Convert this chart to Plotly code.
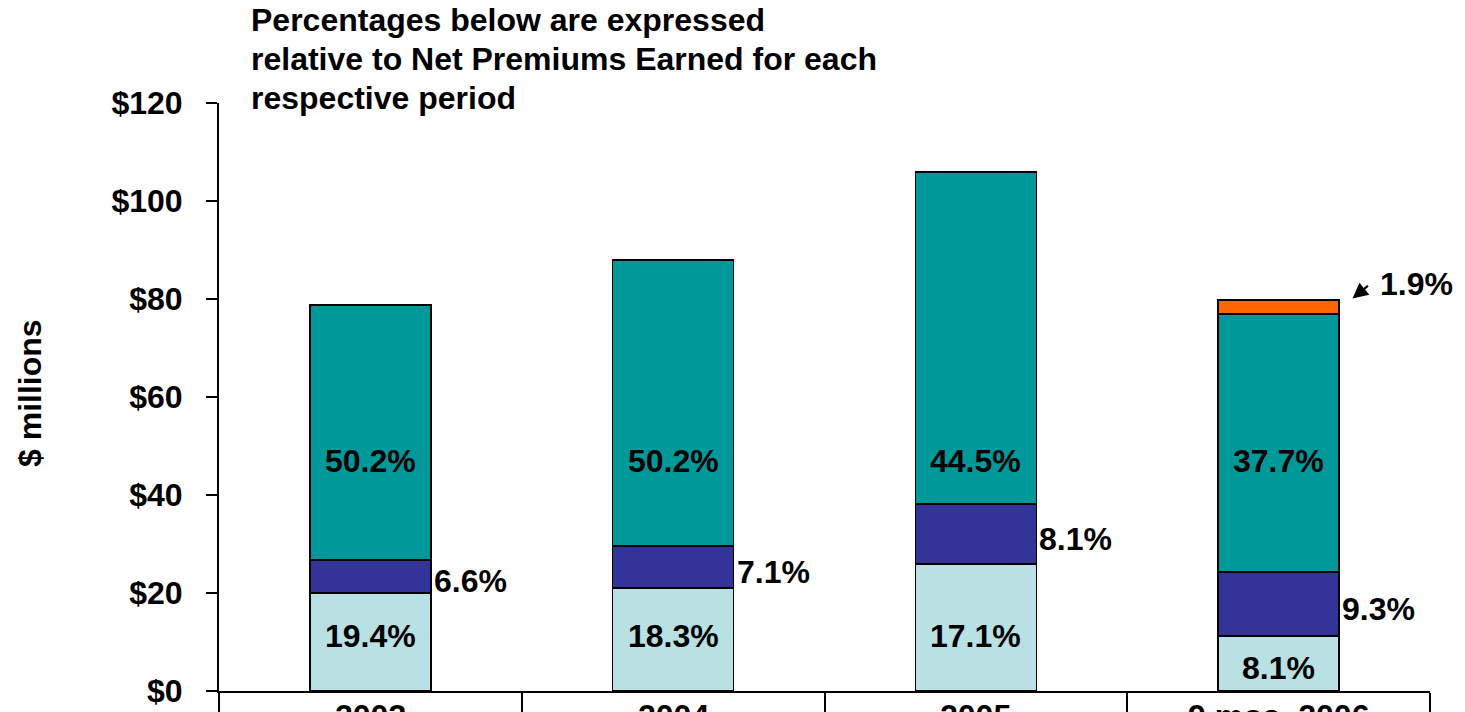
import plotly.graph_objects as go

# Periods and stacked expense components ($ millions)
periods = ["2003", "2004", "2005", "9 mos. 2006"]
seg_light = [20.0, 21.0, 25.9, 11.2]
seg_blue = [6.7, 8.6, 12.3, 13.1]
seg_teal = [52.1, 58.4, 67.7, 52.6]
seg_orange = [0.0, 0.0, 0.0, 2.9]

# Ratios to net premiums earned, shown on each segment
pct_light = ["19.4%", "18.3%", "17.1%", "8.1%"]
pct_blue = ["6.6%", "7.1%", "8.1%", "9.3%"]
pct_teal = ["50.2%", "50.2%", "44.5%", "37.7%"]
pct_orange = "1.9%"

y_ticks = [0, 20, 40, 60, 80, 100, 120]
y_tick_text = ["$0", "$20", "$40", "$60", "$80", "$100", "$120"]

note_lines = [
    "Percentages below are expressed",
    "relative to Net Premiums Earned for each",
    "respective period",
]

FONT = "Liberation Sans, Arial, sans-serif"
FS = 32
BAR_W = 0.4

colors = {
    "light": "#B9E0E3",
    "blue": "#333399",
    "teal": "#009999",
    "orange": "#FF6600",
}

fig = go.Figure()
for name, vals in [("light", seg_light), ("blue", seg_blue),
                   ("teal", seg_teal), ("orange", seg_orange)]:
    fig.add_trace(go.Bar(
        x=periods, y=vals, width=BAR_W, name=name,
        marker=dict(color=colors[name], line=dict(color="black", width=1.6)),
        hoverinfo="skip", showlegend=False,
    ))

label_font = dict(family=FONT, size=FS, color="black", weight="bold")

for i, p in enumerate(periods):
    # lower segment label (kept inside short segments)
    low_y = 11.2 if seg_light[i] >= 15 else seg_light[i] / 2 - 0.9
    fig.add_annotation(x=i, y=low_y, text=pct_light[i],
                       showarrow=False, font=label_font)
    # middle segment label, to the right of the bar
    mid = seg_light[i] + seg_blue[i] / 2 - 1.0
    fig.add_annotation(x=i + BAR_W / 2, y=mid, text=pct_blue[i], xanchor="left",
                       xshift=1, showarrow=False, font=label_font)
    # upper segment label
    fig.add_annotation(x=i, y=47, text=pct_teal[i], showarrow=False, font=label_font)
    # category label below the axis
    fig.add_annotation(x=i, y=0, yref="paper", text=p, yanchor="top", yshift=-5,
                       showarrow=False, font=label_font)

# top segment of the last bar, with a pointer
top_last = seg_light[3] + seg_blue[3] + seg_teal[3] + seg_orange[3]
fig.add_annotation(x=3 + BAR_W / 2 + 0.044, y=top_last + 0.3, text="",
                   showarrow=True, arrowhead=2, arrowsize=1.4, arrowwidth=2.2,
                   arrowcolor="black", ax=17, ay=-14)
fig.add_annotation(x=3 + BAR_W / 2 + 0.046, y=top_last + 0.4, text=pct_orange,
                   xanchor="left", xshift=25, yshift=14, showarrow=False,
                   font=label_font)

# note above the chart, one line per annotation
for k, line in enumerate(note_lines):
    fig.add_annotation(x=0.025, y=1.0, xref="paper", yref="paper",
                       xanchor="left", yanchor="middle", align="left",
                       yshift=(103 - 20) - 39 * k,
                       text=line, showarrow=False,
                       font=dict(family=FONT, size=FS, color="black", weight="bold"))

# y-axis title
fig.add_annotation(x=-0.156, y=0.507, xref="paper", yref="paper", text="$ millions",
                   xanchor="center", yanchor="middle",
                   textangle=-90, showarrow=False,
                   font=dict(family=FONT, size=FS, color="black", weight="bold"))

fig.update_layout(
    template="none",
    width=1465, height=712,
    margin=dict(l=219, r=35, t=103, b=21),
    barmode="stack",
    paper_bgcolor="white", plot_bgcolor="white",
    xaxis=dict(
        type="category", range=[-0.5, 3.5], showticklabels=False,
        ticks="outside", tickson="boundaries", ticklen=40, tickwidth=1.5,
        tickcolor="black", showline=True, linecolor="black", linewidth=2,
        showgrid=False, zeroline=False, automargin=False,
    ),
    yaxis=dict(
        range=[0, 120], tickvals=y_ticks, ticktext=y_tick_text,
        ticks="outside", ticklen=11, tickwidth=2, tickcolor="black",
        showline=True, linecolor="black", linewidth=2,
        showgrid=False, zeroline=False, automargin=False,
        ticklabelstandoff=17,
        tickfont=dict(family=FONT, size=FS, color="black", weight="bold"),
    ),
)

fig.write_html("out.html")
